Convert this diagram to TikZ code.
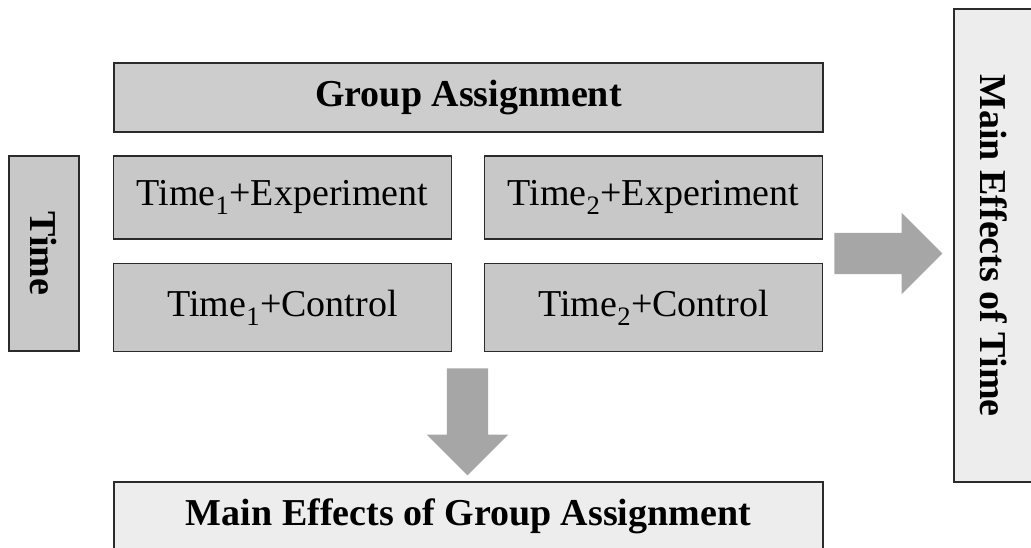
\documentclass[tikz,border=0pt]{standalone}
\usepackage{fontspec}
\setmainfont{Liberation Serif}
\usetikzlibrary{positioning, shapes.arrows}
\definecolor{boxgray}{HTML}{CDCDCD}
\definecolor{cellgray}{HTML}{C8C8C8}
\definecolor{lightgray}{HTML}{EDEDED}
\definecolor{arrowgray}{HTML}{A6A6A6}
\definecolor{edgegray}{HTML}{2B2B2B}

\begin{document}
\begin{tikzpicture}[x=1pt,y=-1pt,on grid,
  font=\fontsize{38pt}{40pt}\selectfont]
\tikzset{
  box/.style={rectangle,draw=edgegray,line width=1.5pt,inner sep=0pt,fill=boxgray},
  cell/.style={box,fill=cellgray,minimum width=338pt},
  effect/.style={box,fill=lightgray,font=\fontsize{38pt}{40pt}\selectfont\bfseries},
  blockarrow/.style={single arrow,fill=arrowgray,draw=none,inner xsep=0pt,inner ysep=20.5pt,
    single arrow head extend=20pt,minimum height=108pt}
}
  \useasboundingbox (0,0) rectangle (1031,548);
  \clip (0,0) rectangle (1031,548);

  %--- nodes ---
  \node[box, minimum width=709pt, minimum height=69pt, font=\fontsize{38pt}{40pt}\selectfont\bfseries]
    (group) at (468.5,97.5) {Group Assignment};
  \node[cell, minimum height=83pt] (t1e) at (282.5,197.5) {Time\textsubscript{1}+Experiment};
  \node[cell, minimum height=83pt] (t2e) [right=371pt of t1e] {Time\textsubscript{2}+Experiment};
  \node[cell, minimum height=88pt] (t1c) [below=110pt of t1e] {Time\textsubscript{1}+Control};
  \node[cell, minimum height=88pt] (t2c) [right=371pt of t1c] {Time\textsubscript{2}+Control};
  \node[box, fill=cellgray, minimum width=195pt, minimum height=70pt, rotate=-90,
    font=\fontsize{38pt}{40pt}\selectfont\bfseries] (time) at (44,253.5) {Time};

  \node[effect, minimum width=473pt, minimum height=80pt, rotate=-90]
    (efftime) at (994,245.5) {Main Effects of Time};
  \node[effect, minimum width=709pt, minimum height=69pt]
    (effgroup) at (468.5,516.5) {Main Effects of Group Assignment};

  %--- arrows ---
  \node[blockarrow] (toright) at (878,253.5) {};
  \node[blockarrow, rotate=-90, minimum height=107pt] (todown) at (467.5,411.5) {};
\end{tikzpicture}
\end{document}
